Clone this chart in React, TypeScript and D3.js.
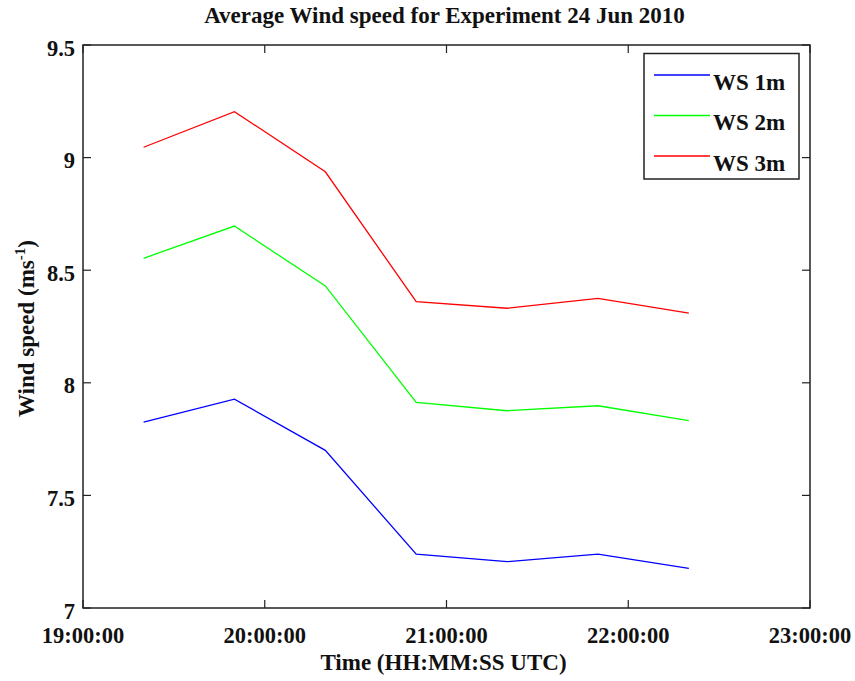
import React, { useEffect, useRef } from "react";
import * as d3 from "d3";

// Sample times (UTC) of the averaged wind speed
const times = ["19:20:00", "19:50:00", "20:20:00", "20:50:00", "21:20:00", "21:50:00", "22:20:00"];
// Average wind speeds (m/s) at each sensor height
const ws1m = [7.825, 7.927, 7.7, 7.239, 7.206, 7.239, 7.176];
const ws2m = [8.553, 8.696, 8.43, 7.913, 7.876, 7.898, 7.832];
const ws3m = [9.046, 9.204, 8.937, 8.36, 8.331, 8.375, 8.309];
const seriesNames = ["WS 1m", "WS 2m", "WS 3m"];
const seriesColors = ["#0000ff", "#00ff00", "#ff0000"];
const xTickLabels = ["19:00:00", "20:00:00", "21:00:00", "22:00:00", "23:00:00"];
const yTicks = [7, 7.5, 8, 8.5, 9, 9.5];

const W = 855;
const H = 681;
const margin = { left: 83, right: 45, top: 45, bottom: 73 };
const FONT = "'Liberation Serif', 'Times New Roman', serif";

const toDate = (t: string) => new Date(`2010-06-24T${t}Z`);

export default function App() {
  const ref = useRef<SVGSVGElement | null>(null);

  useEffect(() => {
    const svg = d3.select(ref.current);
    svg.selectAll("*").remove();

    const x = d3
      .scaleUtc()
      .domain([toDate(xTickLabels[0]), toDate(xTickLabels[xTickLabels.length - 1])])
      .range([margin.left, W - margin.right]);
    const y = d3
      .scaleLinear()
      .domain([yTicks[0], yTicks[yTicks.length - 1]])
      .range([H - margin.bottom, margin.top]);

    const x0 = margin.left;
    const x1 = W - margin.right;
    const y0 = H - margin.bottom;
    const y1 = margin.top;

    svg.append("rect").attr("width", W).attr("height", H).attr("fill", "#fff");

    // Data lines
    const series = [ws1m, ws2m, ws3m];
    const line = d3
      .line<number>()
      .x((_, i) => x(toDate(times[i])))
      .y((d) => y(d));
    series.forEach((vals, k) => {
      svg
        .append("path")
        .attr("d", line(vals))
        .attr("fill", "none")
        .attr("stroke", seriesColors[k])
        .attr("stroke-width", 1.3);
    });

    // Axes box
    const axisG = svg.append("g").attr("stroke", "#222").attr("fill", "none");
    axisG
      .append("rect")
      .attr("x", x0)
      .attr("y", y1)
      .attr("width", x1 - x0)
      .attr("height", y0 - y1)
      .attr("stroke-width", 1.5);

    const tickLen = 8;
    const label = (sel: any, size: number) =>
      sel
        .attr("font-family", FONT)
        .attr("font-weight", "bold")
        .attr("font-size", size)
        .attr("fill", "#111");

    xTickLabels.forEach((t) => {
      const px = x(toDate(t));
      axisG.append("line").attr("x1", px).attr("x2", px).attr("y1", y0).attr("y2", y0 - tickLen).attr("stroke-width", 1.2);
      axisG.append("line").attr("x1", px).attr("x2", px).attr("y1", y1).attr("y2", y1 + tickLen).attr("stroke-width", 1.2);
      label(svg.append("text").attr("x", px).attr("y", 643).attr("text-anchor", "middle"), 22.5).text(t);
    });

    yTicks.forEach((v) => {
      const py = y(v);
      axisG.append("line").attr("x1", x0).attr("x2", x0 + tickLen).attr("y1", py).attr("y2", py).attr("stroke-width", 1.2);
      axisG.append("line").attr("x1", x1).attr("x2", x1 - tickLen).attr("y1", py).attr("y2", py).attr("stroke-width", 1.2);
      label(svg.append("text").attr("x", x0 - 8).attr("y", py + 10.5).attr("text-anchor", "end"), 22.5).text(String(v));
    });

    // Title
    label(svg.append("text").attr("x", (x0 + x1) / 2 - 2).attr("y", 23).attr("text-anchor", "middle"), 23).text(
      "Average Wind speed for Experiment 24 Jun 2010"
    );

    // X axis label
    label(svg.append("text").attr("x", (x0 + x1) / 2 - 3).attr("y", 670).attr("text-anchor", "middle"), 23).text(
      "Time (HH:MM:SS UTC)"
    );

    // Y axis label with superscript
    const yl = label(
      svg
        .append("text")
        .attr("transform", `translate(34, ${(y0 + y1) / 2 + 2}) rotate(-90)`)
        .attr("text-anchor", "middle"),
      23
    );
    yl.append("tspan").text("Wind speed (ms");
    yl.append("tspan").attr("font-size", 15).attr("dy", -9).text("-1");
    yl.append("tspan").attr("dy", 9).text(")");

    // Legend
    const lg = svg.append("g");
    lg.append("rect")
      .attr("x", 644)
      .attr("y", 53.5)
      .attr("width", 155)
      .attr("height", 125.5)
      .attr("fill", "#fff")
      .attr("stroke", "#222")
      .attr("stroke-width", 1.5);
    seriesNames.forEach((name, k) => {
      const ly = 75 + k * 40.5;
      lg.append("line")
        .attr("x1", 654)
        .attr("x2", 710)
        .attr("y1", ly)
        .attr("y2", ly)
        .attr("stroke", seriesColors[k])
        .attr("stroke-width", 1.3);
      label(lg.append("text").attr("x", 713).attr("y", ly + 14.5), 23).text(name);
    });
  }, []);

  return (
    <svg
      ref={ref}
      width={W}
      height={H}
      style={{ position: "absolute", left: 0, top: 0, display: "block" }}
    />
  );
}
